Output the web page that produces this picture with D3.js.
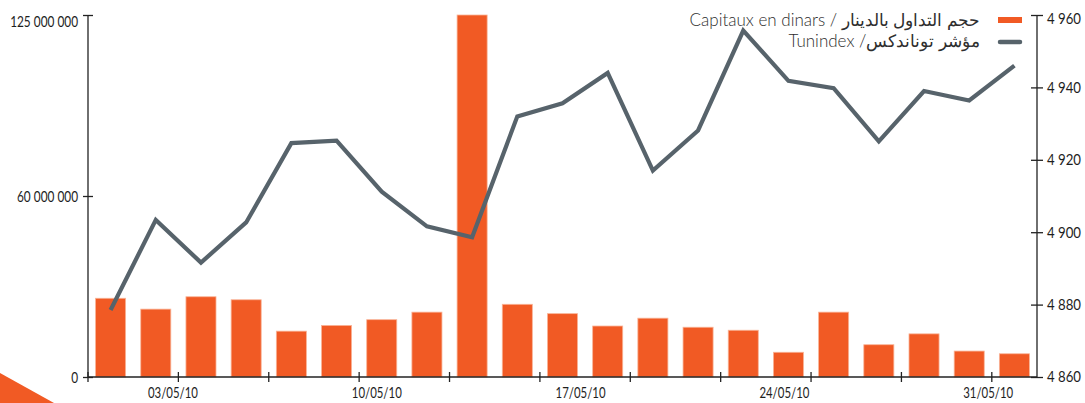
<!DOCTYPE html>
<html>
<head>
<meta charset="utf-8">
<script src="https://cdnjs.cloudflare.com/ajax/libs/d3/7.8.5/d3.min.js"></script>
<style>
    body { margin: 0; background: #fff; }
    #chart { width: 1085px; height: 403px; }
    .axis text { font-family: "Lato", sans-serif; font-size: 15px; fill: #1e1e1e; }
    .y-axis text { font-size: 16px; }
    .axis path, .axis line { stroke: #222; stroke-width: 1.3px; }
    .legend_txt { font-family: "Lato", "DejaVu Sans", sans-serif; font-weight: 300; font-size: 17px; fill: #2e2e2e; }
</style>
</head>
<body>
<div id="chart"></div>
<script>

// trading days, May 2010
let days = ["03/05/10", "04/05/10", "05/05/10", "06/05/10", "07/05/10",
    "10/05/10", "11/05/10", "12/05/10", "13/05/10", "14/05/10",
    "17/05/10", "18/05/10", "19/05/10", "20/05/10", "21/05/10",
    "24/05/10", "25/05/10", "26/05/10", "27/05/10", "28/05/10",
    "31/05/10"]

// Capitaux en dinars (millions)
let capitaux = [26.1, 22.5, 26.6, 25.6, 15.2, 17.1, 19.0, 21.5, 125, 24.1,
    21.0, 16.9, 19.5, 16.5, 15.5, 8.2, 21.5, 10.7, 14.3, 8.6, 7.7]

// Tunindex
let tunindex = [4878.5, 4903.4, 4891.6, 4902.7, 4924.6, 4925.3, 4911.2, 4901.6, 4898.6, 4932.0,
    4935.6, 4944.0, 4917.0, 4928.1, 4955.7, 4941.8, 4939.8, 4925.1, 4939.0, 4936.4,
    4946.0]

let xLabels = ["03/05/10", "10/05/10", "17/05/10", "24/05/10", "31/05/10"]
let leftTicks = [0, 60, 120]
let leftTickLabels = ["0", "60 000 000", "125 000 000"]
let rightTicks = [4860, 4880, 4900, 4920, 4940, 4960]

let legendLabels = ["Capitaux en dinars / حجم التداول بالدينار", "Tunindex /مؤشر توناندكس"]


// squeeze text horizontally (the original font is a narrow one)
function narrow(sel, f) {
    sel.each(function () {
        let w = this.getComputedTextLength()
        d3.select(this).attr("textLength", w * f).attr("lengthAdjust", "spacingAndGlyphs")
    })
}

class comboVis {

    constructor(parentElement) {
        this.parentElement = parentElement;
        this.initVis()
    }

    initVis() {
        let vis = this;

        vis.margin = { top: 15, right: 48, bottom: 26, left: 88 };
        vis.width = 1085 - vis.margin.left - vis.margin.right;
        vis.height = 403 - vis.margin.top - vis.margin.bottom;

        vis.svgFig = d3.select("#" + vis.parentElement).append("svg")
            .attr('width', 1085)
            .attr('height', 403)

        // orange corner decoration
        vis.svgFig.append("path")
            .attr("d", "M0,373 L54,403 L0,403 Z")
            .attr("fill", "#f15a24")

        vis.svg = vis.svgFig.append('g')
            .attr('transform', `translate (${vis.margin.left}, ${vis.margin.top})`);

        // slot scale: one slot per trading day
        vis.xscale = d3.scaleLinear()
            .domain([0, days.length])
            .range([0, vis.width])

        vis.yscale = d3.scaleLinear()
            .domain([0, 120])
            .range([vis.height, 0])
            .clamp(true)

        vis.y2scale = d3.scaleLinear()
            .domain([4860, 4960])
            .range([vis.height, 0])

        vis.labelScale = d3.scalePoint()
            .domain(xLabels)
            .range([vis.xscale(1.88), vis.xscale(19.92)])

        vis.draw()
    }

    draw() {
        let vis = this;

        let bw = vis.xscale(1) - vis.xscale(0)
        let barW = bw * 0.665

        vis.svg.selectAll(".bars")
            .data(capitaux)
            .join("rect")
            .attr("class", "bars")
            .attr("x", (d, i) => vis.xscale(i + 0.5) - barW / 2)
            .attr("y", d => vis.yscale(d))
            .attr("width", barW)
            .attr("height", d => vis.height - vis.yscale(d))
            .attr("fill", "#f15a24")
            .attr("stroke", "#f9b497")
            .attr("stroke-width", 0.8)

        let line = d3.line()
            .x((d, i) => vis.xscale(i + 0.5))
            .y(d => vis.y2scale(d))

        vis.svg.append("path")
            .datum(tunindex)
            .attr("d", line)
            .attr("fill", "none")
            .attr("stroke", "#57636b")
            .attr("stroke-width", 4.2)
            .attr("stroke-linejoin", "miter")

        // left axis
        let yAxis = d3.axisLeft(vis.yscale)
            .tickValues(leftTicks)
            .tickSize(0)
            .tickPadding(10)
            .tickFormat((d, i) => leftTickLabels[i])
        let gy = vis.svg.append("g").attr("class", "axis y-axis").call(yAxis)
        gy.select(".domain").attr("d", `M0,0V${vis.height}`)
        gy.selectAll(".tick").append("line").attr("x1", -5).attr("x2", 5)
        gy.selectAll(".tick text").filter(d => d == 120).attr("dy", "0.72em")
        narrow(gy.selectAll(".tick text"), 0.74)

        // right axis
        let y2Axis = d3.axisRight(vis.y2scale)
            .tickValues(rightTicks)
            .tickSize(0)
            .tickPadding(10)
            .tickFormat(d => d3.format(",")(d).replace(",", " "))
        let gy2 = vis.svg.append("g").attr("class", "axis y2-axis")
            .attr("transform", `translate(${vis.width},0)`)
            .call(y2Axis)
        gy2.select(".domain").attr("d", `M0,0V${vis.height}`)
        gy2.selectAll(".tick").append("line").attr("x1", -6).attr("x2", 6)
        gy2.selectAll(".tick text").filter(d => d == 4960).attr("dy", "0.55em")
        narrow(gy2.selectAll(".tick text"), 0.88)

        // bottom axis
        let g = vis.svg.append("g").attr("class", "axis x-axis")
            .attr("transform", `translate(0,${vis.height})`)
        g.append("line").attr("x1", 0).attr("x2", vis.width)
        g.selectAll(".xtick")
            .data(d3.range(0, days.length, 2))
            .join("line")
            .attr("class", "xtick")
            .attr("x1", d => vis.xscale(d)).attr("x2", d => vis.xscale(d))
            .attr("y1", -5).attr("y2", 5)
        g.selectAll(".xlab")
            .data(xLabels)
            .join("text")
            .attr("class", "xlab")
            .attr("x", d => vis.labelScale(d))
            .attr("y", 21)
            .attr("text-anchor", "middle")
            .text(d => d)
        narrow(g.selectAll(".xlab"), 0.76)

        // legend
        let lg = vis.svgFig.append("g")
        lg.append("rect")
            .attr("x", 998).attr("y", 17)
            .attr("width", 24).attr("height", 6)
            .attr("fill", "#f15a24")
        lg.append("line")
            .attr("x1", 1000).attr("x2", 1020)
            .attr("y1", 42).attr("y2", 42)
            .attr("stroke", "#57636b")
            .attr("stroke-width", 4.5)
            .attr("stroke-linecap", "round")
        lg.selectAll(".legend_txt")
            .data(legendLabels)
            .join("text")
            .attr("class", "legend_txt")
            .attr("x", 980)
            .attr("y", (d, i) => 26 + i * 21)
            .attr("text-anchor", "end")
            .text(d => d)
    }
}

new comboVis("chart")
</script>
</body>
</html>
